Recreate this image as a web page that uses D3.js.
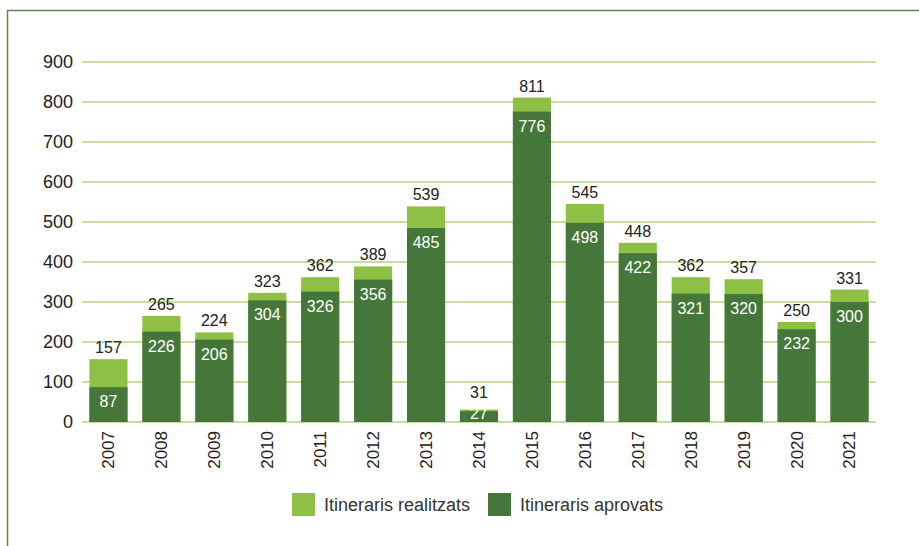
<!DOCTYPE html>
<html>
<head>
<meta charset="utf-8">
<script src="https://cdn.jsdelivr.net/npm/d3@7"></script>
<style>
  body { margin: 0; background: #fff; }
  svg { display: block; font-family: "Liberation Sans", Arial, sans-serif; }
</style>
</head>
<body>
<script>
// Data
const years = ["2007", "2008", "2009", "2010", "2011", "2012", "2013", "2014",
  "2015", "2016", "2017", "2018", "2019", "2020", "2021"];
const realitzats = [157, 265, 224, 323, 362, 389, 539, 31, 811, 545, 448, 362, 357, 250, 331];
const aprovats = [87, 226, 206, 304, 326, 356, 485, 27, 776, 498, 422, 321, 320, 232, 300];
const yTicks = [0, 100, 200, 300, 400, 500, 600, 700, 800, 900];
const seriesNames = ["Itineraris realitzats", "Itineraris aprovats"];

const lightGreen = "#8fc046";
const darkGreen = "#46773a";

const W = 919, H = 546;
const margin = { top: 62, right: 43, bottom: 124, left: 82 };
const width = W - margin.left - margin.right;
const height = H - margin.top - margin.bottom;

const svg = d3.select("body").append("svg").attr("width", W).attr("height", H);

// frame (top and left edges)
svg.append("path")
  .attr("d", "M7.5,546 V10.5 H919")
  .attr("fill", "none")
  .attr("stroke", "#5b8a4c")
  .attr("stroke-width", 1.5);

const g = svg.append("g").attr("transform", `translate(${margin.left},${margin.top})`);

const x = d3.scaleBand().domain(years).range([0, width]).paddingInner(0.28).paddingOuter(0.14);
const y = d3.scaleLinear().domain([0, 900]).range([height, 0]);

// gridlines
g.selectAll(".grid")
  .data(yTicks)
  .enter()
  .append("line")
  .attr("x1", 0)
  .attr("x2", width)
  .attr("y1", (d) => y(d))
  .attr("y2", (d) => y(d))
  .attr("stroke", "#c4dfa0")
  .attr("stroke-width", 2);

// y axis labels
const yAxis = g.append("g").call(d3.axisLeft(y).tickValues(yTicks).tickSize(0).tickPadding(9));
yAxis.select(".domain").remove();
yAxis.selectAll("text").attr("font-size", 18).attr("fill", "#222")
  .attr("font-family", "'Liberation Sans', Arial, sans-serif");

// bars: realitzats behind, aprovats in front
g.selectAll(".bar-r")
  .data(years)
  .enter()
  .append("rect")
  .attr("x", (d) => x(d))
  .attr("width", x.bandwidth())
  .attr("y", (d, i) => y(realitzats[i]))
  .attr("height", (d, i) => height - y(realitzats[i]))
  .attr("fill", lightGreen);

g.selectAll(".bar-a")
  .data(years)
  .enter()
  .append("rect")
  .attr("x", (d) => x(d))
  .attr("width", x.bandwidth())
  .attr("y", (d, i) => y(aprovats[i]))
  .attr("height", (d, i) => height - y(aprovats[i]))
  .attr("fill", darkGreen);

// value labels
g.selectAll(".lab-r")
  .data(years)
  .enter()
  .append("text")
  .attr("x", (d) => x(d) + x.bandwidth() / 2)
  .attr("y", (d, i) => Math.min(y(realitzats[i]) - 6, height - 24))
  .attr("text-anchor", "middle")
  .attr("font-size", 16)
  .attr("fill", "#222")
  .text((d, i) => realitzats[i]);

g.selectAll(".lab-a")
  .data(years)
  .enter()
  .append("text")
  .attr("x", (d) => x(d) + x.bandwidth() / 2)
  .attr("y", (d, i) => Math.min(y(aprovats[i]) + 20, height - 3))
  .attr("text-anchor", "middle")
  .attr("font-size", 16)
  .attr("fill", "#fff")
  .text((d, i) => aprovats[i]);

// x axis labels (rotated)
const xAxis = g.append("g")
  .attr("transform", `translate(0,${height})`)
  .call(d3.axisBottom(x).tickSize(0).tickPadding(0));
xAxis.select(".domain").remove();
xAxis.selectAll("text")
  .attr("font-size", 17)
  .attr("fill", "#222")
  .attr("font-family", "'Liberation Sans', Arial, sans-serif")
  .attr("transform", "rotate(-90)")
  .attr("text-anchor", "end")
  .attr("x", -9)
  .attr("y", 0)
  .attr("dy", "0.35em");

// legend
const legend = svg.append("g").attr("transform", "translate(292,493)");
const legendColors = [lightGreen, darkGreen];
const legendX = [0, 196];
seriesNames.forEach((name, i) => {
  const item = legend.append("g").attr("transform", `translate(${legendX[i]},0)`);
  item.append("rect").attr("width", 23).attr("height", 23).attr("fill", legendColors[i]);
  item.append("text")
    .attr("x", 32)
    .attr("y", 12)
    .attr("dy", "0.35em")
    .attr("font-size", 18)
    .attr("fill", "#333")
    .text(name);
});
</script>
</body>
</html>
